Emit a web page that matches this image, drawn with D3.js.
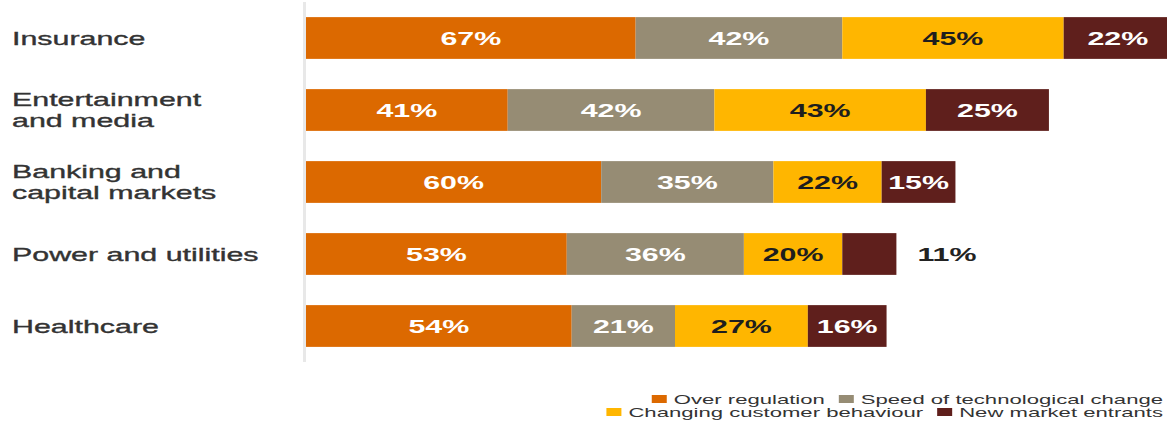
<!DOCTYPE html>
<html>
<head>
<meta charset="utf-8">
<script src="https://cdn.jsdelivr.net/npm/d3@7"></script>
<style>
  html, body { margin: 0; padding: 0; background: #fff; overflow: hidden; }
  text { font-family: "Liberation Sans", Arial, sans-serif; }
</style>
</head>
<body>
<div id="chart"></div>
<script>
// categories (\n = line break in the label)
const categories = [
    "Insurance",
    "Entertainment\nand media",
    "Banking and\ncapital markets",
    "Power and utilities",
    "Healthcare"
];
const seriesNames = [
    "Over regulation",
    "Speed of technological change",
    "Changing customer behaviour",
    "New market entrants"
];
const overRegulation = [67, 41, 60, 53, 54];
const speedOfTechChange = [42, 42, 35, 36, 21];
const customerBehaviour = [45, 43, 22, 20, 27];
const newEntrants = [22, 25, 15, 11, 16];
const legendRows = [
    ["Over regulation", "Speed of technological change"],
    ["Changing customer behaviour", "New market entrants"]
];

const colors = ["#dc6900", "#968c74", "#ffb600", "#5f1f1c"];
const labelColors = ["#ffffff", "#ffffff", "#1e1e1e", "#ffffff"];

const width = 1167;
const height = 421;
const stretch = 1.6; // the source picture is widened horizontally

const rows = categories.map((c, i) => ({
    category: c,
    [seriesNames[0]]: overRegulation[i],
    [seriesNames[1]]: speedOfTechChange[i],
    [seriesNames[2]]: customerBehaviour[i],
    [seriesNames[3]]: newEntrants[i]
}));

const stacked = d3.stack().keys(seriesNames)(rows);

const svg = d3.select("#chart")
    .append("svg")
    .attr("width", width)
    .attr("height", height);

const x = d3.scaleLinear()
    .domain([0, 100])
    .range([306, 798]);

const y = d3.scaleBand()
    .domain(categories)
    .range([2, 362])
    .paddingInner(0.42)
    .paddingOuter(0.21);

const color = d3.scaleOrdinal().domain(seriesNames).range(colors);

// light vertical axis line
svg.append("g")
    .attr("transform", `translate(${x(0) - 2},0)`)
    .call(d3.axisLeft(y).tickSize(0))
    .call(g => g.selectAll(".tick").remove())
    .call(g => g.select(".domain")
        .attr("stroke", "#d2d2d2")
        .attr("stroke-width", 3)
        .attr("stroke-dasharray", "1 1"));

// category labels
const catLabels = svg.append("g");
categories.forEach(c => {
    const lines = c.split("\n");
    const cy = y(c) + y.bandwidth() / 2;
    const lh = 21;
    lines.forEach((ln, k) => {
        catLabels.append("text")
            .attr("transform", `translate(12,${cy + (k - (lines.length - 1) / 2) * lh}) scale(${stretch},1)`)
            .attr("dy", "0.36em")
            .attr("font-size", 19)
            .attr("fill", "#333")
            .attr("stroke", "#333")
            .attr("stroke-width", 0.35)
            .text(ln);
    });
});

// bars
const layers = svg.append("g")
    .selectAll("g")
    .data(stacked)
    .enter()
    .append("g")
    .attr("fill", d => color(d.key));

layers.selectAll("rect")
    .data(d => d)
    .enter()
    .append("rect")
    .attr("x", d => x(d[0]))
    .attr("y", d => y(d.data.category))
    .attr("width", d => x(d[1]) - x(d[0]))
    .attr("height", y.bandwidth());

// value labels
stacked.forEach((layer, si) => {
    layer.forEach(d => {
        const v = d[1] - d[0];
        const segW = x(d[1]) - x(d[0]);
        const cy = y(d.data.category) + y.bandwidth() / 2;
        const t = svg.append("text")
            .attr("font-size", 19)
            .attr("font-weight", "bold")
            .attr("dy", "0.36em")
            .text(v + "%");
        const tw = t.node().getComputedTextLength() * stretch;
        if (tw > segW - 6) {
            t.attr("transform", `translate(${x(d[1]) + 21},${cy}) scale(${stretch},1)`)
                .attr("fill", "#222");
        } else {
            t.attr("transform", `translate(${(x(d[0]) + x(d[1])) / 2},${cy}) scale(${stretch},1)`)
                .attr("text-anchor", "middle")
                .attr("fill", labelColors[si]);
        }
    });
});

// legend, two right-aligned rows
const legendStretch = 1.7;
const legendRight = 1163;
legendRows.forEach((items, r) => {
    const g = svg.append("g");
    const cy = 399 + r * 13;
    let cx = 0;
    items.forEach(name => {
        g.append("rect")
            .attr("x", cx)
            .attr("y", cy - 4)
            .attr("width", 15)
            .attr("height", 8)
            .attr("fill", color(name));
        cx += 22;
        const t = g.append("text")
            .attr("transform", `translate(${cx},${cy}) scale(${legendStretch},1)`)
            .attr("dy", "0.35em")
            .attr("font-size", 13)
            .attr("fill", "#333")
            .text(name);
        cx += t.node().getComputedTextLength() * legendStretch + 14;
    });
    cx -= 14;
    g.attr("transform", `translate(${legendRight - cx},0)`);
});
</script>
</body>
</html>
